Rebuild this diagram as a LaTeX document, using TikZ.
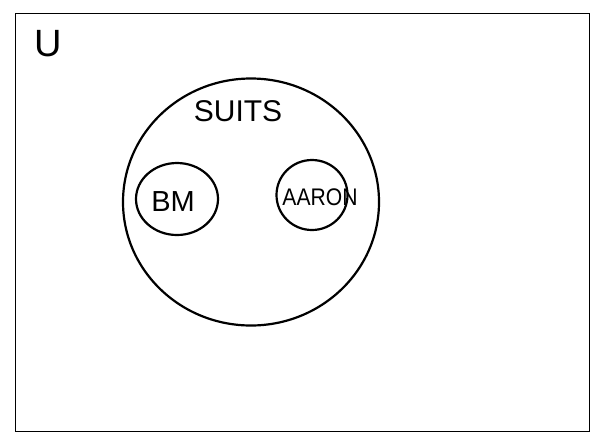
\documentclass[tikz,border=0pt]{standalone}
\usepackage{fontspec}
\setmainfont{Liberation Sans}
\usetikzlibrary{shapes.geometric}
\begin{document}
\begin{tikzpicture}[x=1pt,y=-1pt,
  setline/.style={draw=black, line width=2.2pt, ellipse, inner sep=0pt},
  lbl/.style={font=\fontsize{#1}{#1}\selectfont, inner sep=0pt}]
\useasboundingbox (0,0) rectangle (593,437);
\fill[white] (0,0) rectangle (593,437);
\node[draw=black, line width=1.3pt, rectangle, minimum width=574pt, minimum height=418pt, anchor=north west, inner sep=0pt] (univ) at (15,13) {};
\node[lbl=38] (u) at (48,44) {U};
\node[setline, minimum width=256pt, minimum height=247pt] (suits) at (251,202) {};
\node[lbl=30] (suitslbl) at (238,111) {SUITS};
\node[setline, minimum width=82pt, minimum height=72pt] (bm) at (177,199) {};
\node[lbl=29] (bmlbl) at (173,202) {BM};
\node[setline, minimum width=71pt, minimum height=70pt] (aaron) at (312,195) {};
\node[lbl=24, xscale=0.88] (aaronlbl) at (320,197) {AARON};
\end{tikzpicture}
\end{document}
